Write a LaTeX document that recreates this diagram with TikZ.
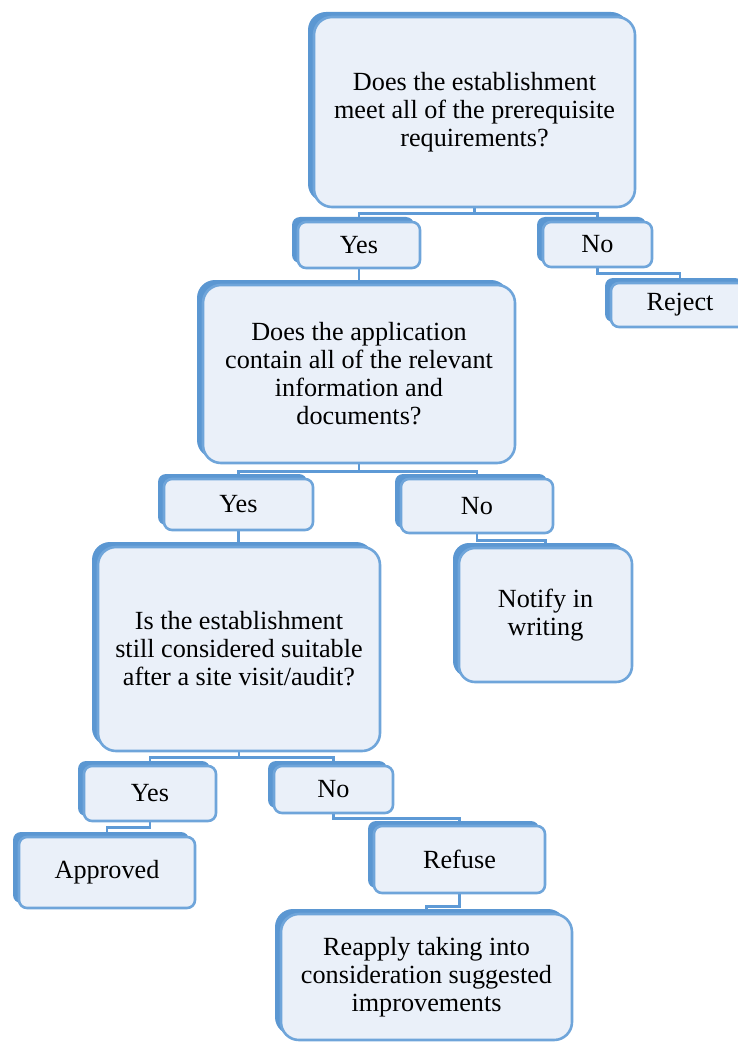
\documentclass[tikz,border=0pt]{standalone}
\usepackage{fontspec}
\setmainfont{Liberation Serif}
\usetikzlibrary{shadows,backgrounds}
\definecolor{boxfill}{HTML}{EAF0F9}
\definecolor{boxline}{HTML}{6FA5DA}
\definecolor{boxback}{HTML}{5B97D2}
\definecolor{linkblue}{HTML}{5E9AD6}
\tikzset{
  box/.style={draw=boxline, line width=1.3pt, fill=boxfill, rounded corners=#1,
    align=center, inner sep=2pt, font=\fontsize{13.1}{14}\selectfont,
    drop shadow={shadow xshift=-3pt, shadow yshift=2.5pt, opacity=1, fill=boxback}},
  box/.default=4pt,
  link/.style={draw=linkblue, line width=1.4pt},
}

\begin{document}
\begin{tikzpicture}[x=0.5pt, y=-0.5pt]
\path[use as bounding box, clip] (0,0) rectangle (738,1043);
%第一个问题
\node[box=9pt, minimum width=160.5pt, minimum height=95pt] (q1) at (474.5,112)
  {Does the establishment\\meet all of the prerequisite\\requirements?};
\node[box, minimum width=61pt, minimum height=23pt] (yes1) at (359,245) {Yes};
\node[box, minimum width=54.5pt, minimum height=22.5pt] (no1) at (597.5,244.5) {No};
\node[box, minimum width=69pt, minimum height=22pt] (reject) at (680,305) {Reject};
%第二个问题
\node[box=9pt, minimum width=156pt, minimum height=89pt] (q2) at (359,374)
  {Does the application\\contain all of the relevant\\information and\\documents?};
\node[box, minimum width=74.5pt, minimum height=25.5pt] (yes2) at (238.5,504.5) {Yes};
\node[box, minimum width=76pt, minimum height=27pt] (no2) at (477,506) {No};
\node[box=8pt, minimum width=86.5pt, minimum height=67pt] (notify) at (545.5,615)
  {Notify in\\writing};
%第三个问题
\node[box=9pt, minimum width=141pt, minimum height=102pt] (q3) at (239,649)
  {Is the establishment\\still considered suitable\\after a site visit/audit?};
\node[box, minimum width=66pt, minimum height=27.5pt] (yes3) at (150,793.5) {Yes};
\node[box, minimum width=59.5pt, minimum height=23.5pt] (no3) at (333.5,789.5) {No};
%结果
\node[box, minimum width=88pt, minimum height=35.5pt] (approved) at (107,872.5) {Approved};
\node[box, minimum width=85.5pt, minimum height=33.5pt] (refuse) at (459.5,859.5) {Refuse};
\node[box=9pt, minimum width=145.5pt, minimum height=63pt] (reapply) at (426.5,977)
  {Reapply taking into\\consideration suggested\\improvements};

%连线
\begin{scope}[on background layer]
\draw[link] (q1.south) -- ++(0,5) -| (yes1.north);
\draw[link] (q1.south) -- ++(0,5) -| (no1.north);
\draw[link] (no1.south) -- ++(0,5) -| (reject.north);

\draw[link] (yes1.south) -- (q2.north -| yes1.south);
\draw[link] (q2.south) -- ++(0,7) -| (yes2.north);
\draw[link] (q2.south) -- ++(0,7) -| (no2.north);
\draw[link] (no2.south) -- ++(0,6) -| (notify.north);

\draw[link] (yes2.south) -- (q3.north -| yes2.south);
\draw[link] (q3.south) -- ++(0,5) -| (yes3.north);
\draw[link] (q3.south) -- ++(0,5) -| (no3.north);

\draw[link] (yes3.south) -- ++(0,5) -| (approved.north);
\draw[link] (no3.south) -- ++(0,4) -| (refuse.north);
\draw[link] (refuse.south) -- ++(0,12) -| (reapply.north);
\end{scope}
\end{tikzpicture}
\end{document}
